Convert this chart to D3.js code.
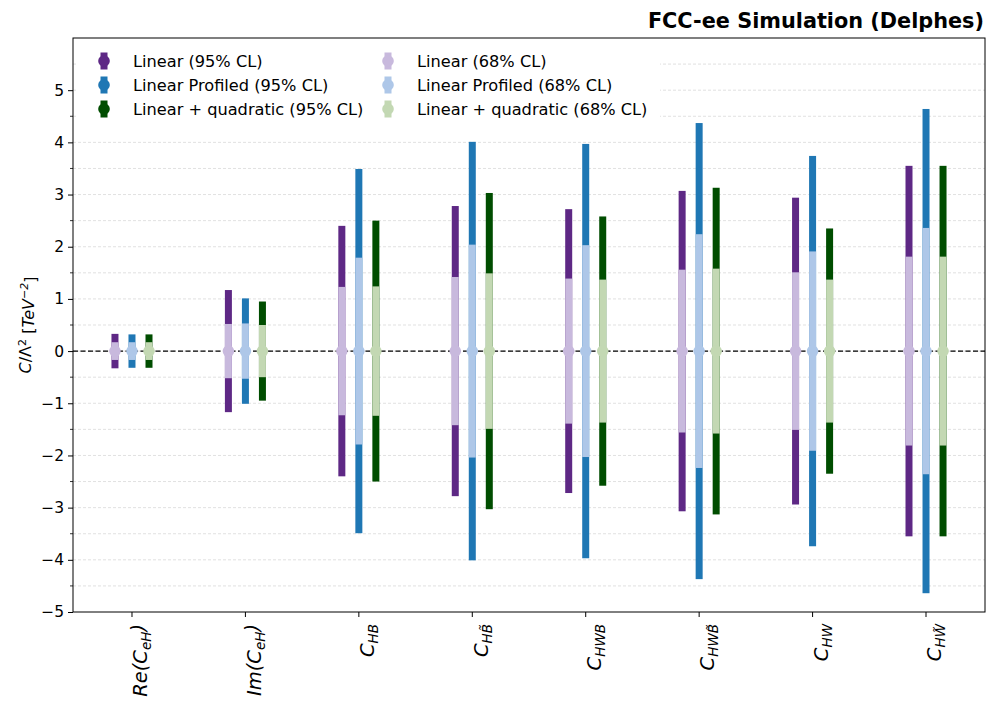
<!DOCTYPE html>
<html>
<head>
<meta charset="utf8" />
<script src="https://cdn.jsdelivr.net/npm/d3@7"></script>
<style>
  body { margin: 0; background: #fff; }
  text { font-family: "DejaVu Sans", sans-serif; }
</style>
</head>
<body>
<script>
// coefficients and their tick label pieces
var tickPre  = ["Re(", "Im(", "", "", "", "", "", ""];
var tickSub  = ["eH", "eH", "HB", "HB\u0303", "HWB", "HWB\u0303", "HW", "HW\u0303"];
var tickPost = [")", ")", "", "", "", "", "", ""];

// half widths of the symmetric intervals
var lin95  = [0.33, 1.17, 2.40, 2.78, 2.72, 3.07, 2.94, 3.55];
var lin68  = [0.17, 0.52, 1.23, 1.42, 1.39, 1.56, 1.51, 1.81];
var prof95 = [0.32, 1.01, 3.49, 4.01, 3.97, 4.37, 3.74, 4.64];
var prof68 = [0.17, 0.53, 1.79, 2.04, 2.03, 2.24, 1.91, 2.36];
var quad95 = [0.32, 0.95, 2.50, 3.03, 2.58, 3.13, 2.35, 3.55];
var quad68 = [0.17, 0.50, 1.24, 1.49, 1.37, 1.58, 1.37, 1.81];

var yTicks = [-5, -4, -3, -2, -1, 0, 1, 2, 3, 4, 5];

var series = [
  { name: "Linear",             off: -0.15, w95: lin95,  w68: lin68,  dark: "#5e2885", light: "#c8b9dd" },
  { name: "Linear Profiled",    off: 0,     w95: prof95, w68: prof68, dark: "#1f77b4", light: "#aec7e8" },
  { name: "Linear + quadratic", off: 0.15,  w95: quad95, w68: quad68, dark: "#004d00", light: "#c3d8b3" }
];

var W = 997, H = 710;
var mL = 73, mR = 985, mT = 38, mB = 612;

var svg = d3.select("body").append("svg")
  .attr("width", W).attr("height", H);

var x = d3.scaleLinear().domain([-0.52, 7.52]).range([mL, mR]);
var y = d3.scaleLinear().domain([-5, 6]).range([mB, mT]);

// grid every 0.5
var gridVals = d3.range(-4.5, 5.51, 0.5);
svg.append("g").selectAll("line").data(gridVals).enter().append("line")
  .attr("x1", mL).attr("x2", mR)
  .attr("y1", function(d) { return y(d); })
  .attr("y2", function(d) { return y(d); })
  .attr("stroke", "#d9d9d9").attr("stroke-width", 0.8)
  .attr("stroke-dasharray", "3,2");

// zero line
svg.append("line")
  .attr("x1", mL).attr("x2", mR)
  .attr("y1", y(0)).attr("y2", y(0))
  .attr("stroke", "#000").attr("stroke-width", 1.2)
  .attr("stroke-dasharray", "5,2.5");

var barW = 7;
series.forEach(function(s) {
  var g = svg.append("g");
  g.selectAll("rect.b95").data(s.w95).enter().append("rect")
    .attr("x", function(d, i) { return x(i + s.off) - barW / 2; })
    .attr("y", function(d) { return y(d); })
    .attr("width", barW)
    .attr("height", function(d) { return y(-d) - y(d); })
    .attr("fill", s.dark);
  g.selectAll("rect.b68").data(s.w68).enter().append("rect")
    .attr("x", function(d, i) { return x(i + s.off) - barW / 2; })
    .attr("y", function(d) { return y(d); })
    .attr("width", barW)
    .attr("height", function(d) { return y(-d) - y(d); })
    .attr("fill", s.light);
  g.selectAll("circle").data(s.w68).enter().append("circle")
    .attr("cx", function(d, i) { return x(i + s.off); })
    .attr("cy", y(0))
    .attr("r", 5.8)
    .attr("fill", s.light);
});

// frame
svg.append("rect")
  .attr("x", mL).attr("y", mT)
  .attr("width", mR - mL).attr("height", mB - mT)
  .attr("fill", "none").attr("stroke", "#000").attr("stroke-width", 1);

// y axis
var yAxis = svg.append("g")
  .attr("transform", "translate(" + mL + ",0)")
  .call(d3.axisLeft(y).tickValues(yTicks).tickSize(5).tickPadding(4).tickSizeOuter(0)
    .tickFormat(function(d) { return d < 0 ? "\u2212" + (-d) : d; }));
yAxis.select(".domain").remove();
yAxis.selectAll("text").attr("font-size", 15.5).attr("font-family", "DejaVu Sans").attr("fill", "#000");
yAxis.selectAll("line").attr("stroke", "#000");

svg.append("g").selectAll("line").data(d3.range(-4.5, 4.51, 1)).enter().append("line")
  .attr("x1", mL - 3).attr("x2", mL)
  .attr("y1", function(d) { return y(d); })
  .attr("y2", function(d) { return y(d); })
  .attr("stroke", "#000").attr("stroke-width", 0.8);

// x ticks
var xt = svg.append("g");
xt.selectAll("line").data(tickSub).enter().append("line")
  .attr("x1", function(d, i) { return x(i); })
  .attr("x2", function(d, i) { return x(i); })
  .attr("y1", mB).attr("y2", mB + 5)
  .attr("stroke", "#000");

tickSub.forEach(function(sub, i) {
  var t = svg.append("text")
    .attr("transform", "translate(" + x(i) + "," + (mB + 12) + ") rotate(-90)")
    .attr("text-anchor", "end")
    .attr("dy", "0.78em")
    .attr("font-size", 19.5)
    .attr("font-style", "italic");
  t.append("tspan").text(tickPre[i] + "C");
  t.append("tspan").attr("font-size", 13.5).attr("dy", "0.3em").text(sub);
  if (tickPost[i]) t.append("tspan").attr("dy", "-0.3em").text(tickPost[i]);
});

// y label
var yl = svg.append("text")
  .attr("transform", "translate(31," + ((mT + mB) / 2) + ") rotate(-90)")
  .attr("text-anchor", "middle")
  .attr("font-size", 16);
yl.append("tspan").attr("font-style", "italic").text("C");
yl.append("tspan").text("/\u039B");
yl.append("tspan").attr("font-size", 11).attr("dy", "-0.5em").text("2");
yl.append("tspan").attr("dy", "0.5em").text(" [");
yl.append("tspan").attr("font-style", "italic").text("TeV");
yl.append("tspan").attr("font-size", 11).attr("dy", "-0.5em").attr("font-style", "italic").text("\u22122");
yl.append("tspan").attr("dy", "0.5em").text("]");

// title
svg.append("text")
  .attr("x", mR - 1).attr("y", 28)
  .attr("text-anchor", "end")
  .attr("font-size", 20.8).attr("font-weight", "bold")
  .text("FCC-ee Simulation (Delphes)");

// legend
svg.append("rect")
  .attr("x", 78).attr("y", 43).attr("width", 582).attr("height", 84)
  .attr("fill", "#fff");

var legItems = [];
series.forEach(function(s) { legItems.push({ label: s.name + " (95% CL)", c: s.dark }); });
series.forEach(function(s) { legItems.push({ label: s.name + " (68% CL)", c: s.light }); });

var leg = svg.append("g").selectAll("g").data(legItems).enter().append("g")
  .attr("transform", function(d, i) {
    var col = Math.floor(i / 3), row = i % 3;
    return "translate(" + (col === 0 ? 104 : 388) + "," + (61 + row * 24) + ")";
  });
leg.append("rect").attr("x", -3.5).attr("y", -8.5).attr("width", 7).attr("height", 17)
  .attr("fill", function(d) { return d.c; });
leg.append("circle").attr("r", 5.8).attr("fill", function(d) { return d.c; });
leg.append("text").attr("x", 29).attr("dy", "0.35em")
  .attr("font-size", 16.2)
  .text(function(d) { return d.label; });
</script>
</body>
</html>
